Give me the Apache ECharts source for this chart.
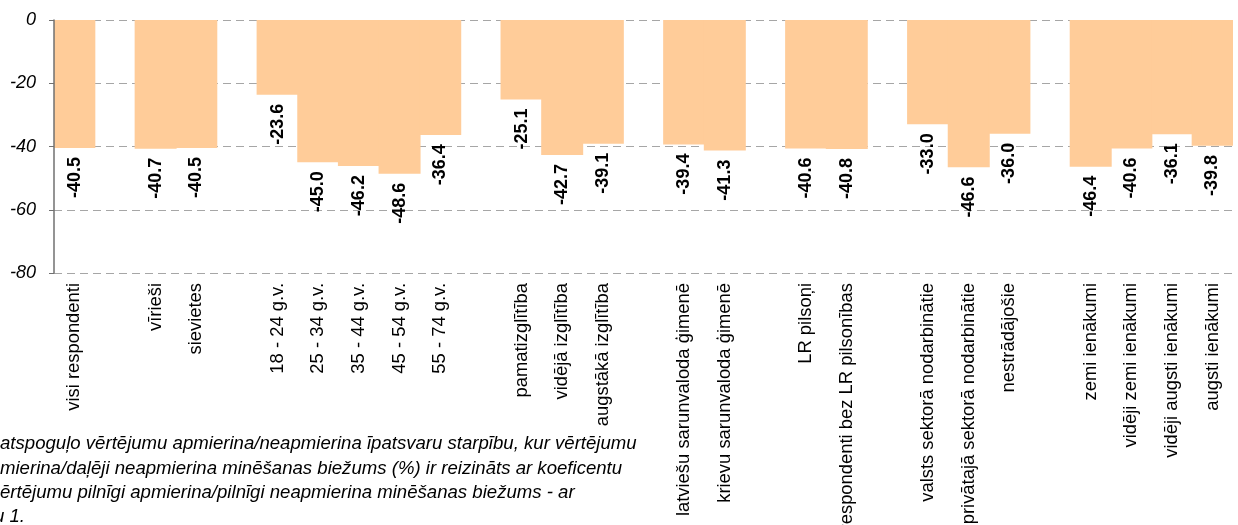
<!DOCTYPE html>
<html>
<head>
<meta charset="utf-8">
<script src="https://cdn.jsdelivr.net/npm/echarts@6/dist/echarts.min.js"></script>
<style>
html,body{margin:0;padding:0;background:#fff;}
#chart{width:1238px;height:525px;}
</style>
</head>
<body>
<div id="chart"></div>
<script>
const categories = ['visi respondenti', '', 'vīrieši', 'sievietes', '',
  '18 - 24 g.v.', '25 - 34 g.v.', '35 - 44 g.v.', '45 - 54 g.v.', '55 - 74 g.v.', '',
  'pamatizglītība', 'vidējā izglītība', 'augstākā izglītība', '',
  'latviešu sarunvaloda ģimenē', 'krievu sarunvaloda ģimenē', '',
  'LR pilsoņi', 'respondenti bez LR pilsonības', '',
  'valsts sektorā nodarbinātie', 'privātajā sektorā nodarbinātie', 'nestrādājošie', '',
  'zemi ienākumi', 'vidēji zemi ienākumi', 'vidēji augsti ienākumi', 'augsti ienākumi'];
const values = [-40.5, null, -40.7, -40.5, null,
  -23.6, -45.0, -46.2, -48.6, -36.4, null,
  -25.1, -42.7, -39.1, null,
  -39.4, -41.3, null,
  -40.6, -40.8, null,
  -33.0, -46.6, -36.0, null,
  -46.4, -40.6, -36.1, -39.8];
const yTicks = [0, -20, -40, -60, -80];
const footnoteLines = [
  'atspoguļo vērtējumu apmierina/neapmierina īpatsvaru starpību, kur vērtējumu',
  'mierina/daļēji neapmierina minēšanas biežums (%) ir reizināts ar koeficentu',
  'ērtējumu pilnīgi apmierina/pilnīgi neapmierina minēšanas biežums - ar',
  'u 1.'
];

const chart = echarts.init(document.getElementById('chart'));
const FONT = 'Liberation Sans, Arial, sans-serif';
const footY = [444, 468.5, 493, 517];
const footX = [0, 0, 0, -6];
const yMin = yTicks[yTicks.length - 1], yMax = yTicks[0];
chart.setOption({
  animation: false,
  backgroundColor: '#fff',
  grid: {left: 54, right: 5, top: 20, bottom: 252, containLabel: false, outerBoundsMode: 'none'},
  xAxis: {
    type: 'category',
    data: categories,
    axisLine: {show: false, onZero: false},
    axisTick: {show: false},
    splitLine: {show: false},
    axisLabel: {interval: 0, rotate: 90, margin: 10, fontSize: 18.4, color: '#000', fontFamily: FONT}
  },
  yAxis: [{
    type: 'value',
    min: yMin,
    max: yMax,
    interval: 20,
    axisLine: {show: false},
    axisTick: {show: false},
    axisLabel: {fontSize: 18, fontStyle: 'italic', color: '#000', margin: 18, fontFamily: FONT},
    splitLine: {show: true, lineStyle: {color: '#a6a6a6', type: [8, 5], width: 1.2}}
  }, {
    type: 'value',
    position: 'left',
    z: 3,
    min: yMin,
    max: yMax,
    interval: 20,
    axisLine: {show: true, lineStyle: {color: '#707070', width: 1.5}},
    axisTick: {show: true, length: 5, lineStyle: {color: '#707070'}},
    axisLabel: {show: false},
    splitLine: {show: false}
  }],
  series: [{
    type: 'bar',
    data: values,
    barWidth: 42,
    itemStyle: {color: '#FFCC99'},
    label: {
      show: true,
      position: 'bottom',
      distance: 9,
      rotate: 90,
      align: 'right',
      verticalAlign: 'middle',
      fontSize: 18,
      fontWeight: 'bold',
      color: '#000',
      fontFamily: FONT,
      formatter: p => p.value == null ? '' : Number(p.value).toFixed(1)
    }
  }],
  graphic: footnoteLines.map((t, i) => ({
    type: 'text',
    x: footX[i],
    y: footY[i],
    style: {text: t, font: 'italic 18.6px ' + FONT, fill: '#000', verticalAlign: 'middle', align: 'left'}
  }))
});
</script>
</body>
</html>
